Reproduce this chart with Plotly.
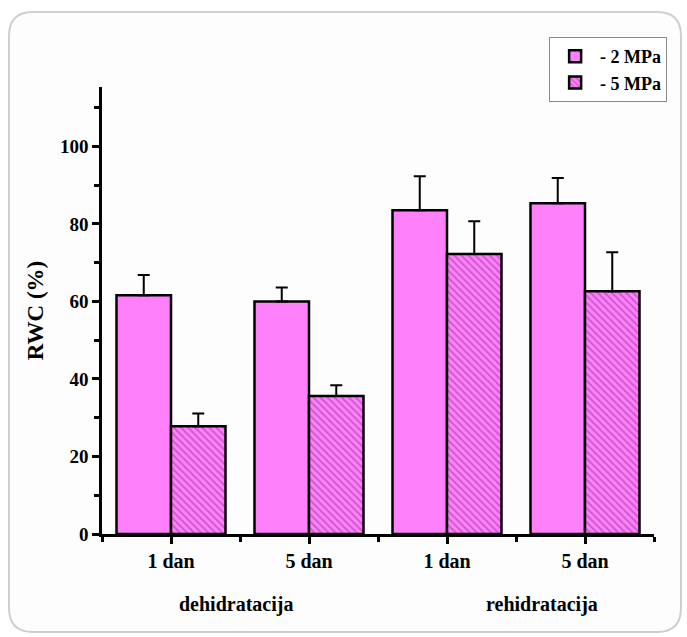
import plotly.graph_objects as go

categories = ["1 dan", "5 dan", "1 dan", "5 dan"]
groups = ["dehidratacija", "rehidratacija"]
series_names = ["- 2 MPa", "- 5 MPa"]
rwc_2mpa = [61.6, 60.0, 83.5, 85.3]
err_2mpa = [5.2, 3.6, 8.8, 6.5]
rwc_5mpa = [27.8, 35.6, 72.2, 62.6]
err_5mpa = [3.3, 2.8, 8.5, 10.1]
y_ticks = [0, 20, 40, 60, 80, 100]

x = list(range(len(categories)))
FONT = "Liberation Serif"
PINK = "#ff80fb"

fig = go.Figure()
fig.add_trace(go.Bar(
    x=x, y=rwc_2mpa, name=series_names[0],
    marker=dict(color=PINK, line=dict(color="black", width=2.5)),
    error_y=dict(type="data", array=err_2mpa, arrayminus=[0]*4, symmetric=False,
                 color="black", thickness=2, width=6),
))
fig.add_trace(go.Bar(
    x=x, y=rwc_5mpa, name=series_names[1],
    marker=dict(color=PINK, line=dict(color="black", width=2.5),
                pattern=dict(shape="\\", fillmode="overlay", fgcolor="#9a2f9a",
                             size=5, solidity=0.35)),
    error_y=dict(type="data", array=err_5mpa, arrayminus=[0]*4, symmetric=False,
                 color="black", thickness=2, width=6),
))

# rounded frame
L, R, T, B = 102, 33, 87, 103
W, H = 687 - L - R, 637 - T - B
def px(v): return (v - L) / W
def py(v): return (637 - B - v) / H
x0, x1, y0, y1, r = 9, 681, 12, 632, 24
path = (f"M {px(x0+r)},{py(y0)} L {px(x1-r)},{py(y0)} Q {px(x1)},{py(y0)} {px(x1)},{py(y0+r)} "
        f"L {px(x1)},{py(y1-r)} Q {px(x1)},{py(y1)} {px(x1-r)},{py(y1)} "
        f"L {px(x0+r)},{py(y1)} Q {px(x0)},{py(y1)} {px(x0)},{py(y1-r)} "
        f"L {px(x0)},{py(y0+r)} Q {px(x0)},{py(y0)} {px(x0+r)},{py(y0)} Z")
fig.add_shape(type="path", path=path, xref="paper", yref="paper",
              line=dict(color="#cfcfcf", width=2), fillcolor="#fdfdfd", layer="below")

fig.add_annotation(x=0.47, y=-0.157, xref="x", yref="paper", text="<b>" + groups[0] + "</b>",
                   showarrow=False, font=dict(family=FONT, size=20, color="black"),
                   yanchor="middle")
fig.add_annotation(x=2.69, y=-0.157, xref="x", yref="paper", text="<b>" + groups[1] + "</b>",
                   showarrow=False, font=dict(family=FONT, size=20, color="black"),
                   yanchor="middle")

fig.update_layout(
    width=687, height=637,
    margin=dict(l=L, r=R, t=T, b=B),
    paper_bgcolor="white", plot_bgcolor="rgba(0,0,0,0)",
    barmode="group", bargap=0.21, bargroupgap=0,
    font=dict(family=FONT, color="black"),
    legend=dict(x=0.81, y=1.112, xanchor="left", yanchor="top",
                bordercolor="#888888", borderwidth=1, bgcolor="white",
                font=dict(family=FONT, size=18, color="black", weight="bold"),
                tracegroupgap=0, itemwidth=40),
    xaxis=dict(range=[-0.5, 3.5], tickvals=x, ticktext=["<b>" + c + "</b>" for c in categories],
               showline=True, linecolor="black", linewidth=2.5,
               ticks="outside", ticklen=7, tickwidth=2.5, tickcolor="black",
               tickfont=dict(family=FONT, size=20, color="black"),
               minor=dict(tickvals=[-0.5, 0.5, 1.5, 2.5, 3.5], ticks="outside",
                          ticklen=5, tickwidth=2.5, tickcolor="black"),
               showgrid=False, zeroline=False, fixedrange=True),
    yaxis=dict(range=[0, 115.3], tickvals=y_ticks, ticktext=["<b>%d</b>" % v for v in y_ticks],
               showline=True, linecolor="black", linewidth=2.5,
               ticks="outside", ticklen=7, tickwidth=2.5, tickcolor="black",
               tickfont=dict(family=FONT, size=19, color="black"),
               minor=dict(dtick=10, tick0=0, ticks="outside", ticklen=5,
                          tickwidth=2.5, tickcolor="black"),
               title=dict(text="<b>RWC (%)</b>", standoff=10,
                          font=dict(family=FONT, size=23, color="black")),
               showgrid=False, zeroline=False),
)

fig.write_html("out.html")
